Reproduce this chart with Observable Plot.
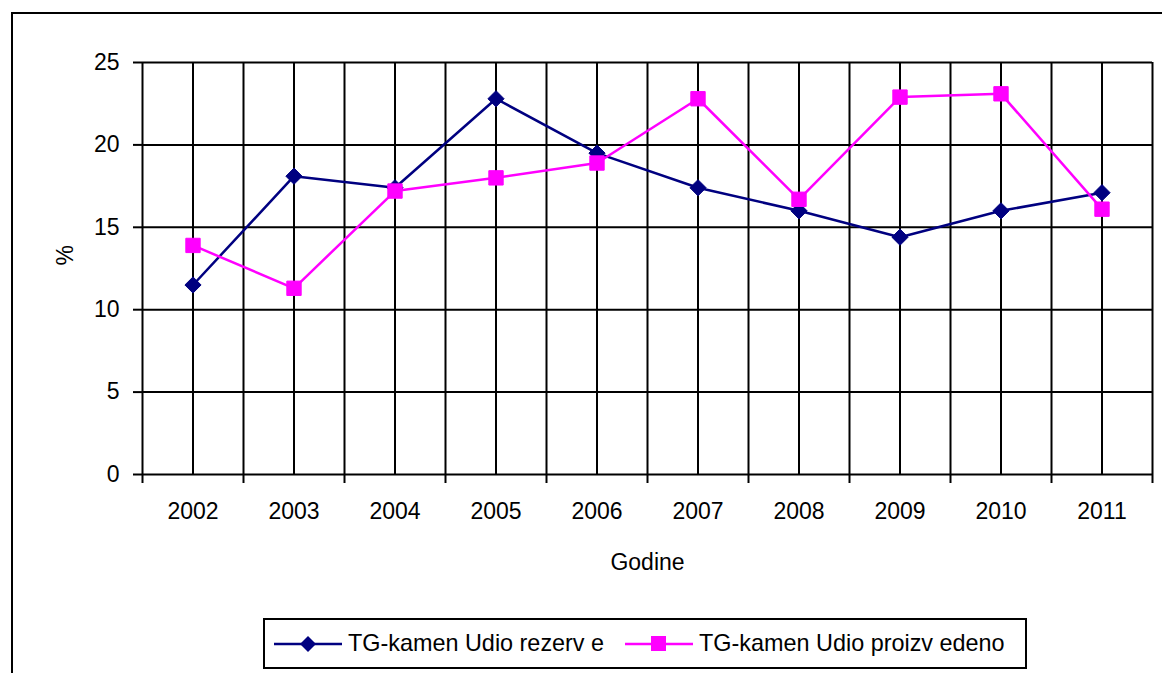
<!DOCTYPE html>
<html>
<head>
<meta charset="utf-8">
<script src="https://cdn.jsdelivr.net/npm/d3@7"></script>
<script src="https://cdn.jsdelivr.net/npm/@observablehq/plot@0.6"></script>
<style>
  html, body { margin: 0; padding: 0; background: #fff; }
  body { width: 1162px; height: 673px; overflow: hidden; position: relative; font-family: "Liberation Sans", Arial, sans-serif; }
  #frame { position: absolute; left: 11px; top: 12px; width: 1200px; height: 720px; border-left: 2px solid #000; border-top: 2px solid #000; pointer-events: none; }
  #chart svg { display: block; }
  #legend { position: absolute; left: 263px; top: 618px; width: 764px; height: 51px; box-sizing: border-box; border: 2px solid #000; background: #fff; display: flex; align-items: center; font-size: 23.4px; color: #000; }
  .item { display: flex; align-items: center; }
  .item svg { display: block; }
</style>
</head>
<body>
<div id="chart"></div>
<div id="frame"></div>
<div id="legend"></div>
<script>
const years = [2002, 2003, 2004, 2005, 2006, 2007, 2008, 2009, 2010, 2011];
const rezerve = [11.5, 18.1, 17.4, 22.8, 19.5, 17.4, 16.0, 14.4, 16.0, 17.1];
const proizvedeno = [13.9, 11.3, 17.2, 18.0, 18.9, 22.8, 16.7, 22.9, 23.1, 16.1];
const yTicks = [0, 5, 10, 15, 20, 25];
const seriesNames = ["TG-kamen Udio rezerve", "TG-kamen Udio proizvedeno"];
const legendLabels = ["TG-kamen Udio rezerv e", "TG-kamen Udio proizv edeno"];
const colors = ["#000080", "#ff00ff"];

const boundaries = [years[0] - 0.5, ...years.map(y => y + 0.5)];
const rows = [
  ...years.map((y, i) => ({year: y, value: rezerve[i], series: seriesNames[0]})),
  ...years.map((y, i) => ({year: y, value: proizvedeno[i], series: seriesNames[1]}))
];
const s0 = rows.filter(d => d.series === seriesNames[0]);
const s1 = rows.filter(d => d.series === seriesNames[1]);

const chart = Plot.plot({
  width: 1162,
  height: 612,
  marginLeft: 142,
  marginRight: 10,
  marginTop: 62,
  marginBottom: 138,
  style: {fontFamily: "Liberation Sans, Arial, sans-serif", fontSize: "23px", color: "#000", background: "transparent"},
  x: {type: "linear", domain: [boundaries[0], boundaries[boundaries.length - 1]]},
  y: {domain: [0, 25]},
  marks: [
    Plot.ruleX(years, {x: d => d, stroke: "#000", strokeWidth: 2, strokeOpacity: 1}),
    Plot.ruleX(boundaries, {x: d => d, y1: 0, y2: 25, stroke: "#000", strokeWidth: 2}),
    Plot.ruleY(yTicks, {y: d => d, stroke: "#000", strokeWidth: 2}),
    Plot.axisY({ticks: yTicks, tickSize: 9, tickPadding: 14, tickFormat: d => String(d), stroke: "#000", strokeWidth: 2, label: null, fontSize: 23}),
    Plot.axisX({ticks: boundaries, tickSize: 9, tickFormat: () => "", stroke: "#000", strokeWidth: 2, label: null}),
    Plot.axisX({ticks: years, tickSize: 0, tickPadding: 28, tickFormat: d => String(d), label: null, fontSize: 23}),
    Plot.text(["Godine"], {text: d => d, frameAnchor: "bottom", dy: 95, fontSize: 23, fill: "#000"}),
    Plot.text(["%"], {text: d => d, frameAnchor: "left", dx: -77, dy: -3, rotate: -90, fontSize: 23, fill: "#000"}),
    Plot.line(s0, {x: "year", y: "value", stroke: colors[0], strokeWidth: 2.5}),
    Plot.dot(s0, {x: "year", y: "value", symbol: "diamond2", r: 7.3, fill: colors[0], stroke: colors[0], strokeWidth: 1}),
    Plot.line(s1, {x: "year", y: "value", stroke: colors[1], strokeWidth: 2.5}),
    Plot.dot(s1, {x: "year", y: "value", symbol: "square", r: 8.1, fill: colors[1], stroke: colors[1], strokeWidth: 1})
  ]
});
document.getElementById("chart").appendChild(chart);

// Legend
const legend = document.getElementById("legend");
const symbols = [
  '<path d="M34 14 L42 22 L34 30 L26 22 Z" />',
  '<rect x="26" y="14" width="15" height="15" />'
];
const pads = [9, 21];
legendLabels.forEach((lab, i) => {
  const item = document.createElement("div");
  item.className = "item";
  item.style.marginLeft = pads[i] + "px";
  item.innerHTML =
    '<svg width="68" height="44" viewBox="0 0 68 44"><line x1="0" y1="22" x2="68" y2="22" stroke="' + colors[i] + '" stroke-width="2.5"/>' +
    '<g fill="' + colors[i] + '">' + symbols[i] + '</g></svg>' +
    '<span style="margin-left:6px">' + lab + '</span>';
  legend.appendChild(item);
});
</script>
</body>
</html>
